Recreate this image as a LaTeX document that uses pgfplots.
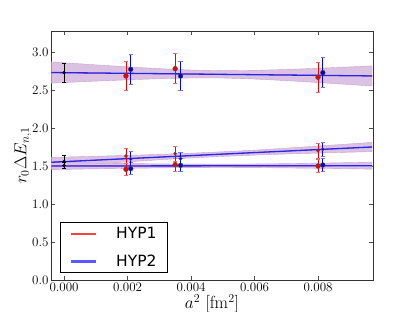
\documentclass[border=0pt]{standalone}
\usepackage{pgfplots}
\pgfplotsset{compat=1.18}
\usepackage{fontspec}
\newfontfamily\legendfont{DejaVu Sans}
\definecolor{bandc}{rgb}{0.86,0.76,0.89}
\definecolor{bandd}{rgb}{0.78,0.63,0.83}
\definecolor{hypred}{rgb}{0.95,0.0,0.0}
\definecolor{hypblue}{rgb}{0.0,0.0,0.95}
\definecolor{fitblue}{rgb}{0.15,0.15,0.95}
\definecolor{legred}{rgb}{1.0,0.25,0.25}
\definecolor{legblue}{rgb}{0.35,0.35,1.0}
\begin{document}
\begin{tikzpicture}
\useasboundingbox (-51pt,-32pt) rectangle (364pt,280pt);
\begin{axis}[
  at={(0pt,0pt)}, anchor=south west,
  scale only axis, width=322pt, height=249pt,
  xmin=-0.00041, xmax=0.00973, ymin=0, ymax=3.276,
  xtick={0,0.002,0.004,0.006,0.008},
  xticklabels={0.000,0.002,0.004,0.006,0.008},
  scaled x ticks=false,
  ytick={0,0.5,1,1.5,2,2.5,3},
  yticklabels={0.0,0.5,1.0,1.5,2.0,2.5,3.0},
  tick align=inside, major tick length=4pt,
  tick style={black!70, line width=0.5pt},
  axis line style={black!80, line width=0.8pt},
  ticklabel style={font=\fontsize{13}{15}\selectfont},
  xticklabel style={yshift=1pt},
  yticklabel style={xshift=1pt},
  xlabel={$a^2$ [fm$^2$]},
  ylabel={$r_0 \Delta E_{n,1}$},
  label style={font=\fontsize{17.5}{20}\selectfont},
  xlabel style={yshift=4pt},
  ylabel style={yshift=-6pt},
  legend style={at={(0.028,0.028)}, anchor=south west, draw=black, line width=0.8pt,
    font=\fontsize{15.5}{18}\selectfont\legendfont, inner xsep=11pt, inner ysep=4.8pt,
    row sep=14.7pt, cells={anchor=west}, nodes={inner sep=0pt}},
  legend cell align=left,
  /tikz/every odd column/.append style={column sep=20pt},
  clip=false,
]
% ---- bands (closed polygons: upper edge forward, lower edge back) ----
\addplot[fill=bandc, draw=bandd, line width=0.4pt, forget plot] coordinates {
 (-0.0004,2.8694) (0,2.858) (0.001,2.8305) (0.002,2.8043) (0.003,2.7805) (0.004,2.762) (0.005,2.7535) (0.006,2.7577) (0.007,2.7698) (0.008,2.7858) (0.009,2.8035) (0.0097,2.8169)
 (0.0097,2.5519) (0.009,2.5715) (0.008,2.5982) (0.007,2.6232) (0.006,2.6443) (0.005,2.6575) (0.004,2.658) (0.003,2.6485) (0.002,2.6337) (0.001,2.6165) (0,2.598) (-0.0004,2.5902)
};
\addplot[fill=bandc, draw=bandd, line width=0.4pt, forget plot] coordinates {
 (-0.0004,1.6127) (0,1.6169) (0.001,1.6278) (0.002,1.6396) (0.003,1.6527) (0.004,1.6682) (0.005,1.6871) (0.006,1.7087) (0.007,1.7343) (0.008,1.7618) (0.009,1.7904) (0.0097,1.8108)
 (0.0097,1.6892) (0.009,1.6816) (0.008,1.6702) (0.007,1.6577) (0.006,1.6433) (0.005,1.6269) (0.004,1.6058) (0.003,1.5813) (0.002,1.5544) (0.001,1.5262) (0,1.4971) (-0.0004,1.4853)
};
\addplot[fill=bandc, draw=bandd, line width=0.4pt, forget plot] coordinates {
 (-0.0004,1.548) (0,1.5451) (0.001,1.5385) (0.002,1.5326) (0.003,1.5277) (0.004,1.5246) (0.005,1.5241) (0.006,1.5265) (0.007,1.5312) (0.008,1.5374) (0.009,1.5444) (0.0097,1.5497)
 (0.0097,1.4581) (0.009,1.4628) (0.008,1.469) (0.007,1.4744) (0.006,1.4783) (0.005,1.4799) (0.004,1.4786) (0.003,1.4747) (0.002,1.4690) (0.001,1.4627) (0,1.4549) (-0.0004,1.4518)
};
% ---- fit lines ----
\addplot[hypred, line width=0.5pt, forget plot] coordinates {(-0.0004,2.7265) (0.0097,2.6880)};
\addplot[fitblue, line width=1.3pt, forget plot] coordinates {(-0.0004,2.7298) (0.0097,2.6844)};
\addplot[hypred, line width=0.5pt, forget plot] coordinates {(-0.0004,1.5495) (0.0097,1.7495)};
\addplot[fitblue, line width=1.3pt, forget plot] coordinates {(-0.0004,1.549) (0.0097,1.750)};
\addplot[hypred, line width=0.5pt, forget plot] coordinates {(-0.0004,1.500) (0.0097,1.5035)};
\addplot[fitblue, line width=1.3pt, forget plot] coordinates {(-0.0004,1.4998) (0.0097,1.504)};
% ---- extrapolated points at a^2=0 ----
\addplot[black, only marks, mark=*, mark size=1.3pt, line width=0.8pt, forget plot,
  error bars/.cd, y dir=both, y explicit, error mark options={rotate=90, mark size=2.2pt, black, line width=0.8pt}]
  coordinates {(0,2.728) +- (0,0.125) (0,1.557) +- (0,0.087) (0,1.505) +- (0,0.04)};
% ---- HYP1 (red) ----
\addplot[only marks, mark=*, mark size=2.4pt, mark options={fill=hypred, draw=black!70, line width=0.4pt}, forget plot,
  error bars/.cd, y dir=both, y explicit, error bar style={hypred, line width=0.8pt}, error mark options={rotate=90, mark size=2.2pt, hypred!60, line width=0.8pt}]
  coordinates {(0.00195,2.684) +- (0,0.195) (0.0035,2.78) +- (0,0.195) (0.008,2.667) +- (0,0.195)
               (0.00195,1.456) +- (0,0.082) (0.0035,1.518) +- (0,0.085) (0.008,1.50) +- (0,0.088)};
\addplot[only marks, mark=*, mark size=1.6pt, mark options={fill=hypred, draw=black!70, line width=0.4pt}, forget plot,
  error bars/.cd, y dir=both, y explicit, error bar style={hypred, line width=0.8pt}, error mark options={rotate=90, mark size=2.2pt, hypred!60, line width=0.8pt}]
  coordinates {(0.00195,1.632) +- (0,0.097) (0.0035,1.662) +- (0,0.097) (0.008,1.70) +- (0,0.097)};
% ---- HYP2 (blue) ----
\addplot[only marks, mark=*, mark size=2.4pt, mark options={fill=hypblue!85!black, draw=black!70, line width=0.4pt}, forget plot,
  error bars/.cd, y dir=both, y explicit, error bar style={hypblue, line width=0.8pt}, error mark options={rotate=90, mark size=2.2pt, hypblue!55, line width=0.8pt}]
  coordinates {(0.0021,2.772) +- (0,0.195) (0.00367,2.684) +- (0,0.195) (0.00815,2.728) +- (0,0.195)
               (0.0021,1.465) +- (0,0.079) (0.00367,1.509) +- (0,0.085) (0.00815,1.513) +- (0,0.088)};
\addplot[only marks, mark=*, mark size=1.6pt, mark options={fill=hypblue!85!black, draw=black!70, line width=0.4pt}, forget plot,
  error bars/.cd, y dir=both, y explicit, error bar style={hypblue, line width=0.8pt}, error mark options={rotate=90, mark size=2.2pt, hypblue!55, line width=0.8pt}]
  coordinates {(0.0021,1.592) +- (0,0.098) (0.00367,1.596) +- (0,0.082) (0.00815,1.72) +- (0,0.095)};
% ---- legend entries ----
\addlegendimage{legend image code/.code={\fill[legred] (0pt,-0.6pt) rectangle (24pt,0.6pt);}}
\addlegendentry{HYP1}
\addlegendimage{legend image code/.code={\fill[legblue] (0pt,-0.6pt) rectangle (24pt,0.6pt);}}
\addlegendentry{HYP2}
\end{axis}
\end{tikzpicture}
\end{document}
